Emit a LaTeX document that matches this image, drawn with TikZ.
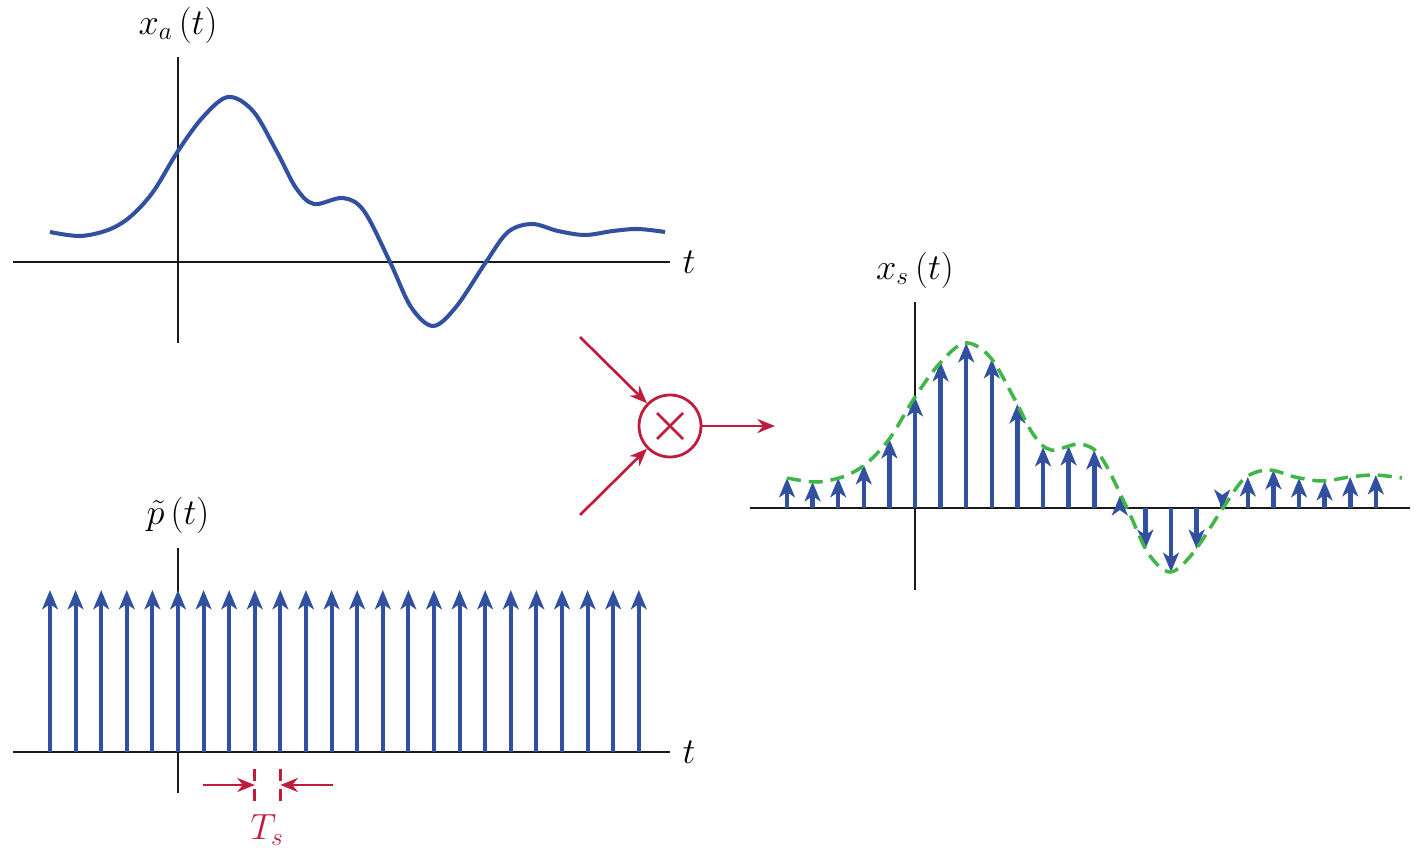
\documentclass[tikz,border=0pt]{standalone}
\usetikzlibrary{arrows.meta}

\definecolor{sigblue}{RGB}{49,80,160}
\definecolor{mulred}{RGB}{192,28,62}
\definecolor{envgreen}{RGB}{64,182,72}
\definecolor{axisgray}{RGB}{25,25,25}

% the analogue signal, in pixels from the origin of its axes
\newcommand{\xacurve}{plot[smooth, tension=0.55] coordinates {
  (-128,30) (-98,26) (-70,32) (-48,45) (-25,70) (0,111) (25,145)
  (50,165) (75,151) (99,110) (118,74) (136,58) (165,64) (186,51)
  (212,0) (233,-45) (255,-64) (278,-45) (308,0) (330,30) (354,38)
  (380,31) (407,27) (435,31) (460,33) (487,30)}}

\begin{document}
\begin{tikzpicture}[x=0.02cm, y=0.02cm,
    every node/.style={font=\fontsize{20}{24}\selectfont},
    axis/.style={draw=axisgray, line width=1.6pt},
    signal/.style={draw=sigblue, line width=2.3pt},
    envelope/.style={draw=envgreen, line width=2pt, dash pattern=on 8pt off 4.5pt},
    impulse/.style={draw=sigblue, line width=2.2pt, -{Stealth[length=11pt,width=9pt,inset=3pt]}},
    flow/.style={draw=mulred, line width=1.5pt, -{Stealth[length=10pt,width=8pt]}}]
  \useasboundingbox (0,0) rectangle (1419,849);

  % top: analogue signal
  \begin{scope}[shift={(178,587)}]
    \draw[axis] (-165,0) -- (492,0);
    \draw[axis] (0,-81) -- (0,205);
    \node (ta) at (511,0) {$t$};
    \node (xa) at (0,237) {$x_a\left(t\right)$};
    \draw[signal] \xacurve;
  \end{scope}

  % bottom: impulse train
  \begin{scope}[shift={(178,97)}]
    \draw[axis] (-165,0) -- (492,0);
    \draw[axis] (0,-41) -- (0,204);
    \node (tp) at (511,0) {$t$};
    \node (pt) at (0,237) {$\tilde{p}\left(t\right)$};
    \foreach \k in {-5,...,18}
      \draw[impulse] (\k*25.6,0) -- (\k*25.6,162);
    \draw[mulred, line width=1.5pt, dash pattern=on 6.8pt off 4.5pt] (76.8,-17) -- (76.8,-50);
    \draw[mulred, line width=1.5pt, dash pattern=on 6.8pt off 4.5pt] (102.4,-17) -- (102.4,-50);
    \coordinate (tsl) at (76.8,-33);
    \coordinate (tsr) at (102.4,-33);
    \coordinate (tsla) at (25,-33);
    \coordinate (tsra) at (155,-33);
    \draw[flow] (tsla) -- (tsl);
    \draw[flow] (tsra) -- (tsr);
    \node[text=mulred, inner sep=1pt] (ts) at (89,-78) {$T_s$};
  \end{scope}

  % multiplier
  \node[circle, draw=mulred, line width=1.6pt, minimum size=1.24cm, inner sep=0pt] (mult) at (670,423) {};
  \draw[mulred, line width=1.5pt] (mult.center) +(-13,-13) -- +(13,13)
    (mult.center) +(-13,13) -- +(13,-13);
  \coordinate (in1) at (580,512);
  \coordinate (in2) at (580,334);
  \coordinate (out) at (775,423);
  \draw[flow] (in1) -- (mult);
  \draw[flow] (in2) -- (mult);
  \draw[flow] (mult) -- (out);

  % right: sampled signal
  \begin{scope}[shift={(915,341)}]
    \draw[axis] (-165,0) -- (495,0);
    \draw[axis] (0,-82) -- (0,206);
    \node (xs) at (0,238) {$x_s\left(t\right)$};
    \foreach \h [count=\k from -5] in {30,26,30,43,69,111,146,165,149,104,61,62,58,12,-41,-64,-41,-1,31,38,30,27,31,33}
      \draw[impulse, line width=2.6pt] (\k*25.6,0) -- (\k*25.6,\h);
    \draw[envelope] \xacurve;
  \end{scope}
\end{tikzpicture}
\end{document}
